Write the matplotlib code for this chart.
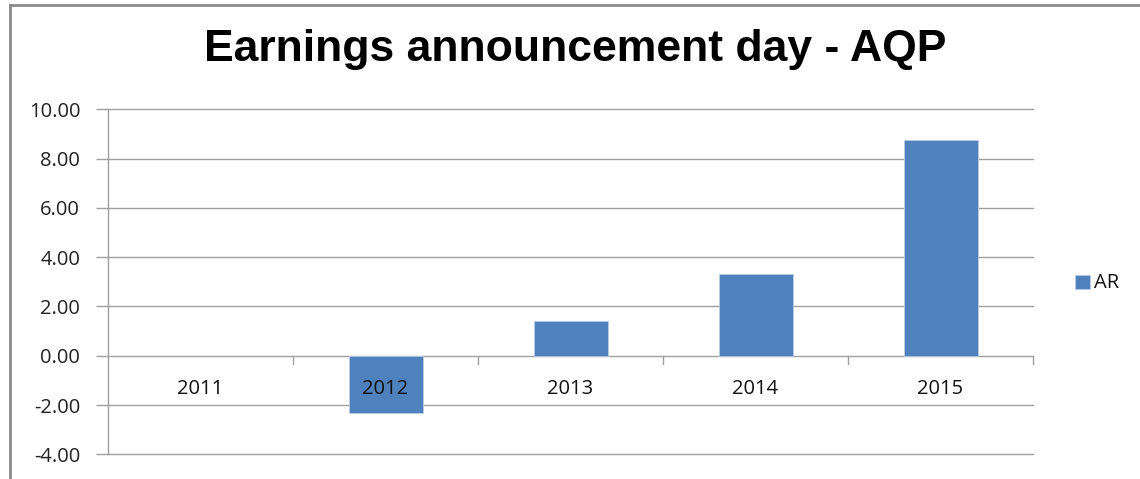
import matplotlib
matplotlib.use("Agg")
import matplotlib.pyplot as plt
from matplotlib.lines import Line2D
from matplotlib.patches import Rectangle

categories = ["2011", "2012", "2013", "2014", "2015"]
ar_values = [0.0, -2.31, 1.42, 3.30, 8.75]
yticks = [-4, -2, 0, 2, 4, 6, 8, 10]
title = "Earnings announcement day - AQP"
series_name = "AR"

W, H = 1140, 479
fig = plt.figure(figsize=(W / 100, H / 100), dpi=100)
fig.patch.set_facecolor("white")

left, right, top, bottom = 108, 1033, 109.3, 454.3
ax = fig.add_axes([left / W, 1 - bottom / H, (right - left) / W, (bottom - top) / H])

bar_color = "#4F81BD"
x = list(range(len(categories)))
edge = ["none" if v == 0 else "#B9CDE5" for v in ar_values]
ax.bar(x, ar_values, width=0.4, color=bar_color, edgecolor=edge, linewidth=0.6, zorder=3)
ax.set_xlim(-0.5, len(categories) - 0.5)
ax.set_ylim(-4, 10)
ax.set_yticks(yticks)
ax.set_yticklabels([f"{v:.2f}" for v in yticks], fontsize=14.5, color="#222222", family="Open Sans")
for v in yticks:
    ax.axhline(v, color="#A0A0A0", linewidth=1.0, zorder=1, clip_on=False)
ax.tick_params(axis="y", length=9, color="#A0A0A0", width=1.0, pad=11)

for s in ["top", "right", "bottom"]:
    ax.spines[s].set_visible(False)
ax.spines["left"].set_color("#A0A0A0")
ax.spines["left"].set_linewidth(1.0)

ax.set_xticks([])
for b in [i + 0.5 for i in range(len(categories))]:
    ax.plot([b, b], [0, -0.32], color="#A0A0A0", linewidth=1.0, zorder=2, clip_on=False)
for xi, c in zip(x, categories):
    ax.text(xi, -1.35, c, ha="center", va="center", fontsize=14.5, color="#111111",
            family="Open Sans", zorder=4)

fig.text(575 / W, 1 - 50 / H, title, ha="center", va="center", fontsize=32,
         fontweight="bold", family="Liberation Sans", color="black")

fig.patches.append(Rectangle((1075 / W, 1 - 289 / H), 15 / W, 14 / H, transform=fig.transFigure,
                             facecolor=bar_color, edgecolor="#B9CDE5", linewidth=0.6))
fig.text(1094 / W, 1 - 283 / H, series_name, ha="left", va="center", fontsize=14.5,
         family="Open Sans", color="#111111")

fig.add_artist(Line2D([10 / W, 10 / W], [0, 1 - 5 / H], transform=fig.transFigure, color="#8A8A8A", linewidth=2))
fig.add_artist(Line2D([10 / W, 1], [1 - 5 / H, 1 - 5 / H], transform=fig.transFigure, color="#8A8A8A", linewidth=2))

fig.savefig("out.png", dpi=100, facecolor="white")
